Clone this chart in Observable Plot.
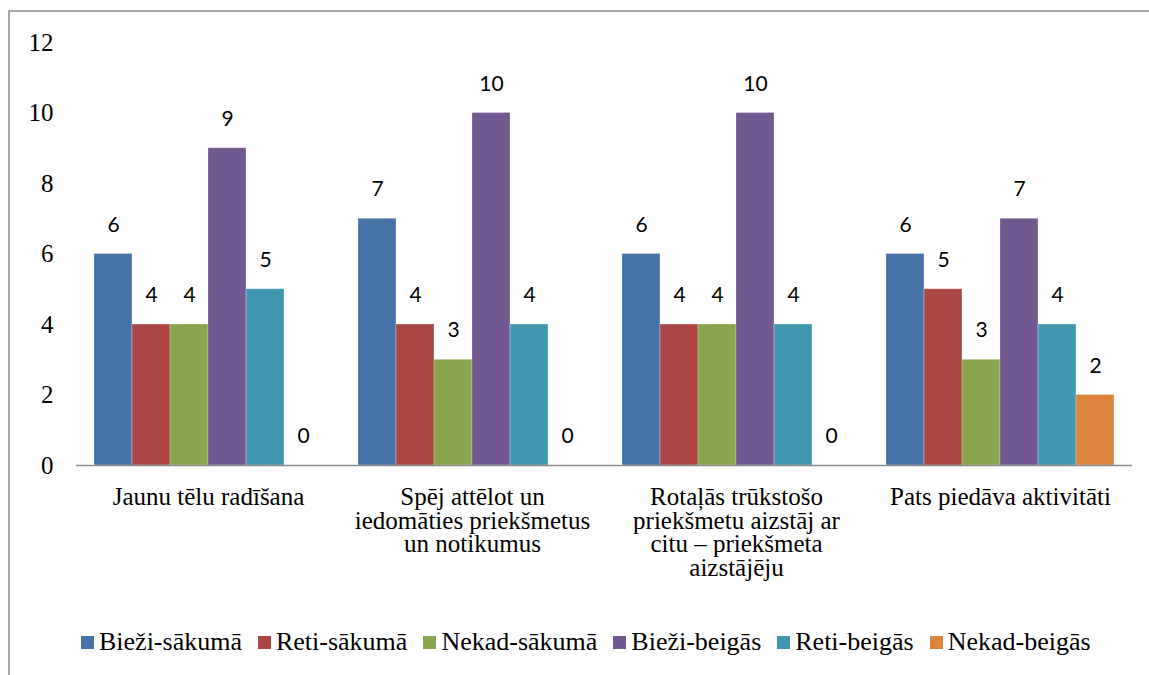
<!DOCTYPE html>
<html>
<head>
<meta charset="utf-8">
<script src="https://cdn.jsdelivr.net/npm/d3@7"></script>
<script src="https://cdn.jsdelivr.net/npm/@observablehq/plot@0.6"></script>
<style>
  html, body { margin: 0; padding: 0; background: #fff; overflow: hidden; width: 1149px; height: 675px; }
  #wrap { position: relative; width: 1149px; height: 675px; }
  #frame { position: absolute; left: 8px; top: 10px; width: 1400px; height: 900px;
           border-top: 2px solid #a6a6a6; border-left: 2px solid #a6a6a6; box-sizing: border-box; }
  #chart { position: absolute; left: 0; top: 0; }
  #legend { position: absolute; left: 81px; top: 627px; display: flex; align-items: center;
            font-family: "Liberation Serif", serif; font-size: 26px; color: #000; white-space: nowrap; }
  #legend .item { display: flex; align-items: center; margin-right: 16px; }
  #legend .sw { width: 13px; height: 13px; margin-right: 5px; }
</style>
</head>
<body>
<div id="wrap">
  <div id="frame"></div>
  <div id="chart"></div>
  <div id="legend"></div>
</div>
<script>
const categories = [
  "Jaunu tēlu radīšana",
  "Spēj attēlot un iedomāties priekšmetus un notikumus",
  "Rotaļās trūkstošo priekšmetu aizstāj ar citu – priekšmeta aizstājēju",
  "Pats piedāva aktivitāti"
];
const categoryLines = [
  "Jaunu tēlu radīšana",
  "Spēj attēlot un\niedomāties priekšmetus\nun notikumus",
  "Rotaļās trūkstošo\npriekšmetu aizstāj ar\ncitu – priekšmeta\naizstājēju",
  "Pats piedāva aktivitāti"
];
const series = ["Bieži-sākumā", "Reti-sākumā", "Nekad-sākumā", "Bieži-beigās", "Reti-beigās", "Nekad-beigās"];
const colors = ["#4572A7", "#AA4643", "#89A54E", "#71588F", "#4198AF", "#DB843D"];
const biezSakuma = [6, 7, 6, 6];
const retiSakuma = [4, 4, 4, 5];
const nekadSakuma = [4, 3, 4, 3];
const biezBeigas = [9, 10, 10, 7];
const retiBeigas = [5, 4, 4, 4];
const nekadBeigas = [0, 0, 0, 2];
const yTicks = [0, 2, 4, 6, 8, 10, 12];

const seriesValues = [biezSakuma, retiSakuma, nekadSakuma, biezBeigas, retiBeigas, nekadBeigas];
const data = [];
categories.forEach((c, i) => {
  series.forEach((s, j) => data.push({category: c, series: s, value: seriesValues[j][i]}));
});
const wrapped = new Map(categories.map((c, i) => [c, categoryLines[i]]));

const serif = "Liberation Serif";
const chart = Plot.plot({
  width: 1149,
  height: 620,
  marginTop: 42,
  marginBottom: 155,
  marginLeft: 75,
  marginRight: 17,
  style: {background: "transparent", color: "#000"},
  fx: {domain: categories, padding: 0, label: null},
  x: {domain: series, paddingInner: 0, paddingOuter: 0.385, axis: null},
  y: {domain: [0, 12], label: null},
  color: {domain: series, range: colors},
  marks: [
    Plot.barY(data, {fx: "category", x: "series", y: "value", fill: "series", stroke: "#ffffff", strokeOpacity: 0.35, strokeWidth: 0.8}),
    Plot.ruleY([0], {stroke: "#8c8c8c", strokeWidth: 1.5}),
    Plot.axisY({ticks: yTicks, tickSize: 0, tickPadding: 23, line: true, stroke: "#8c8c8c", strokeWidth: 1.5, fill: "#000",
                fontSize: 25, fontFamily: serif, label: null, facetAnchor: "left"}),
    Plot.axisFx({anchor: "bottom", tickSize: 0, tickPadding: 23, fontSize: 25, fontFamily: serif, lineHeight: 0.94,
                 fill: "#000", label: null, tickFormat: d => wrapped.get(d)}),
    Plot.text(data, {fx: "category", x: "series", y: "value", text: d => String(d.value), dy: -29, lineAnchor: "middle",
                     fontSize: 21, fontFamily: "Lato", fill: "#000"})
  ]
});
document.getElementById("chart").appendChild(chart);

const legend = document.getElementById("legend");
series.forEach((s, i) => {
  const item = document.createElement("div");
  item.className = "item";
  const sw = document.createElement("div");
  sw.className = "sw";
  sw.style.background = colors[i];
  const t = document.createElement("span");
  t.textContent = s;
  item.appendChild(sw);
  item.appendChild(t);
  legend.appendChild(item);
});
</script>
</body>
</html>
